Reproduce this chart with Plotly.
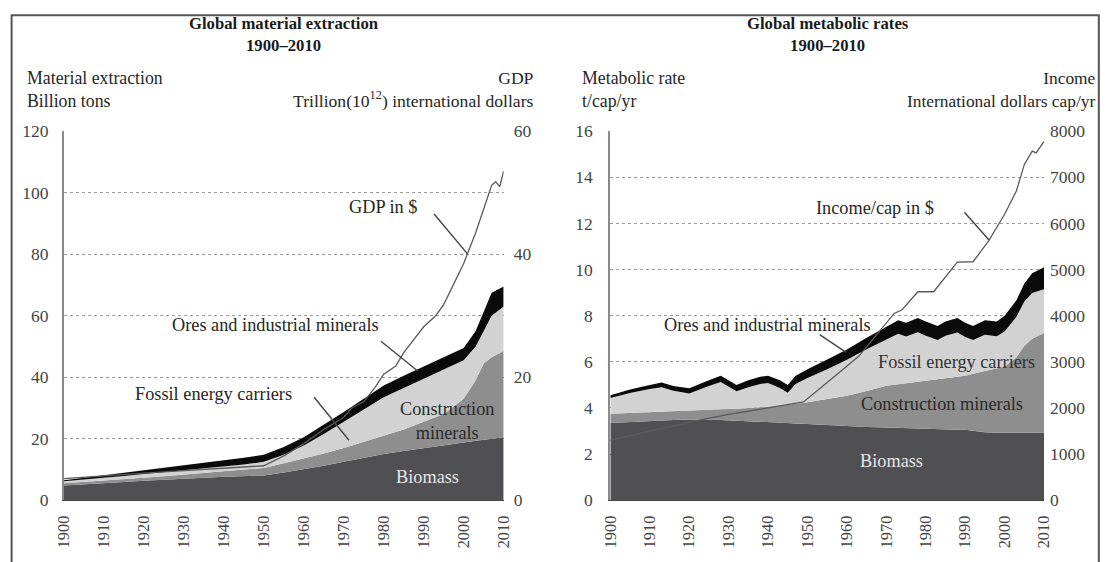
import plotly.graph_objects as go

# ---------------- data: left panel (billion tons, trillion $) ----------------
years_l = [1900, 1905, 1910, 1915, 1920, 1925, 1930, 1935, 1940, 1945, 1950, 1955,
           1960, 1965, 1970, 1975, 1980, 1985, 1990, 1995, 2000, 2003, 2005, 2007, 2010]
biomass_l = [4.8, 5.1, 5.5, 5.9, 6.3, 6.7, 7.0, 7.3, 7.6, 7.8, 8.0, 9.0,
             10.0, 11.2, 12.5, 13.8, 15.0, 16.0, 17.0, 17.9, 18.8, 19.3, 19.7, 20.1, 20.5]
construction_l = [0.7, 0.8, 0.8, 0.9, 1.0, 1.1, 1.3, 1.5, 1.7, 2.0, 2.5, 3.0,
                  3.5, 4.0, 4.5, 5.2, 6.0, 7.0, 8.5, 10.1, 14.2, 19.7, 24.8, 26.4, 28.0]
fossil_l = [0.7, 0.8, 1.0, 1.1, 1.2, 1.3, 1.4, 1.5, 1.7, 1.8, 2.0, 2.8,
            4.3, 6.3, 8.5, 10.5, 12.5, 13.5, 14.0, 14.5, 12.5, 11.0, 10.5, 13.5, 14.5]
ores_l = [0.3, 0.6, 0.8, 1.0, 1.2, 1.4, 1.6, 1.8, 2.0, 2.2, 2.3, 2.5,
          2.7, 3.0, 3.2, 3.5, 3.8, 4.0, 4.0, 4.0, 4.0, 5.0, 6.0, 7.5, 6.5]
gdp_years = [1900, 1910, 1920, 1930, 1940, 1950, 1955, 1960, 1965, 1970, 1972, 1975,
             1978, 1980, 1983, 1985, 1990, 1993, 1995, 2000, 2003, 2005, 2007, 2008, 2009, 2010]
gdp = [3.5, 4.0, 4.4, 4.8, 5.2, 5.6, 7.2, 9.2, 11.5, 13.5, 15.0, 16.0,
       18.5, 20.5, 21.8, 24.0, 28.2, 30.0, 31.8, 38.5, 43.5, 47.5, 51.2, 51.8, 51.0, 53.5]

# ---------------- data: right panel (t/cap/yr, $/cap/yr) ----------------
years_r = [1900, 1905, 1910, 1913, 1916, 1920, 1925, 1928, 1932, 1935, 1938, 1940,
           1943, 1945, 1947, 1950, 1955, 1960, 1965, 1970, 1973, 1975, 1978, 1980,
           1983, 1985, 1988, 1990, 1992, 1995, 1998, 2000, 2003, 2005, 2007, 2010]
biomass_r = [3.35, 3.40, 3.45, 3.47, 3.48, 3.50, 3.50, 3.48, 3.45, 3.43, 3.41, 3.40,
             3.38, 3.35, 3.33, 3.30, 3.25, 3.20, 3.17, 3.15, 3.13, 3.12, 3.11, 3.10,
             3.09, 3.08, 3.06, 3.05, 3.00, 2.95, 2.93, 2.93, 2.93, 2.93, 2.93, 2.93]
construction_r = [0.40, 0.38, 0.35, 0.35, 0.37, 0.38, 0.42, 0.46, 0.52, 0.56, 0.61, 0.65,
                  0.72, 0.78, 0.85, 0.95, 1.14, 1.33, 1.57, 1.81, 1.90, 1.95, 2.02, 2.07,
                  2.15, 2.20, 2.29, 2.35, 2.48, 2.65, 2.79, 2.87, 3.27, 3.77, 4.07, 4.32]
fossil_r = [0.68, 0.87, 1.02, 1.08, 0.90, 0.75, 1.03, 1.19, 0.75, 0.91, 1.02, 1.03,
            0.77, 0.53, 0.86, 1.05, 1.29, 1.56, 1.81, 2.03, 2.19, 2.03, 2.15, 1.96,
            1.71, 1.85, 1.92, 1.68, 1.47, 1.58, 1.39, 1.52, 1.75, 1.92, 1.99, 1.90]
ores_r = [0.12, 0.15, 0.18, 0.20, 0.20, 0.22, 0.25, 0.27, 0.28, 0.30, 0.31, 0.32,
          0.33, 0.34, 0.36, 0.38, 0.42, 0.45, 0.50, 0.55, 0.58, 0.60, 0.62, 0.62,
          0.60, 0.62, 0.63, 0.62, 0.60, 0.62, 0.64, 0.68, 0.72, 0.78, 0.85, 0.95]
inc_years = [1900, 1920, 1930, 1940, 1949, 1956, 1963, 1972, 1974, 1978, 1982, 1988,
             1992, 1996, 2000, 2003, 2005, 2007, 2008, 2010]
income = [1300, 1690, 1860, 2000, 2130, 2620, 3120, 4050, 4130, 4520, 4520, 5160,
          5170, 5630, 6200, 6710, 7280, 7570, 7530, 7780]

decades = list(range(1900, 2011, 10))

# ---------------- styling ----------------
SERIF = "Liberation Serif, Times New Roman, serif"
C_BIO, C_CON, C_FOS, C_ORE = "#505052", "#8e8e8e", "#d2d2d2", "#0a0a0a"
TXT = "#262626"

fig = go.Figure()

def stack(x, y, color, grp, xa, ya):
    fig.add_trace(go.Scatter(x=x, y=y, mode="lines", line=dict(width=0, color=color),
                             fillcolor=color, stackgroup=grp, xaxis=xa, yaxis=ya,
                             hoverinfo="skip", showlegend=False))

for vals, col in [(biomass_l, C_BIO), (construction_l, C_CON), (fossil_l, C_FOS), (ores_l, C_ORE)]:
    stack(years_l, vals, col, "L", "x", "y")
for vals, col in [(biomass_r, C_BIO), (construction_r, C_CON), (fossil_r, C_FOS), (ores_r, C_ORE)]:
    stack(years_r, vals, col, "R", "x2", "y3")

fig.add_trace(go.Scatter(x=gdp_years, y=gdp, mode="lines", line=dict(color="#5a5a5a", width=1.3),
                         xaxis="x", yaxis="y2", hoverinfo="skip", showlegend=False))
fig.add_trace(go.Scatter(x=inc_years, y=income, mode="lines", line=dict(color="#5a5a5a", width=1.3),
                         xaxis="x2", yaxis="y4", hoverinfo="skip", showlegend=False))

# The page keeps an 8px body margin and the captured page is scaled to the window,
# so target pixel positions are converted into figure pixels here.
W, H = 1109, 562
OFF = 8
SX, SY = W / (W + 2 * OFF), H / (H + 2 * OFF)
def PX(x):
    return (x / SX - OFF) / W
def PY(y):
    return 1 - (y / SY - OFF) / H

dom_y = [PY(502), PY(130)]
tickfont_y = dict(family=SERIF, size=17.5, color="#444")
tickfont_x = dict(family=SERIF, size=16.3, color="#444")

xcommon = dict(range=[1900, 2010], tickvals=decades, tickangle=-90, showgrid=False,
               zeroline=False, ticks="", tickfont=tickfont_x, ticklabelstandoff=8,
               showline=True, linecolor="#444", linewidth=1)
yleft = dict(showgrid=True, gridcolor="#9a9a9a", griddash="dot", gridwidth=1,
             showline=True, linecolor="#8a8a8a", linewidth=2, zeroline=False, ticks="",
             tickfont=tickfont_y, domain=dom_y)
yright = dict(side="right", showgrid=False, zeroline=False, ticks="", tickfont=tickfont_y,
              showline=False)

fig.update_layout(
    width=W, height=H, margin=dict(l=0, r=0, t=0, b=0),
    paper_bgcolor="white", plot_bgcolor="white", showlegend=False,
    xaxis=dict(domain=[PX(62), PX(503)], anchor="y", **xcommon),
    yaxis=dict(anchor="x", range=[0, 120], dtick=20, ticklabelstandoff=10, **yleft),
    yaxis2=dict(anchor="x", overlaying="y", range=[0, 60], dtick=20, ticklabelstandoff=9, **yright),
    xaxis2=dict(domain=[PX(610), PX(1045)], anchor="y3", **xcommon),
    yaxis3=dict(anchor="x2", range=[0, 16], dtick=2, ticklabelstandoff=12, **yleft),
    yaxis4=dict(anchor="x2", overlaying="y3", range=[0, 8000], dtick=1000, ticklabelstandoff=5, **yright),
)

ann = []
def A(text, x, y, xref="paper", yref="paper", xanchor="center", align="center",
      size=18.3, color=TXT, bold=False):
    ann.append(dict(text=f"<b>{text}</b>" if bold else text, x=x, y=y, xref=xref, yref=yref,
                    xanchor=xanchor, yanchor="middle", align=align, showarrow=False,
                    font=dict(family=SERIF, size=size, color=color)))

# titles
A("Global material extraction<br>1900–2010", PX(283), PY(32), size=16.7, color="#1a1a1a", bold=True)
A("Global metabolic rates<br>1900–2010", PX(828), PY(32), size=16.7, color="#1a1a1a", bold=True)
# axis headers
A("Material extraction<br>Billion tons", PX(23), PY(88), xanchor="left", align="left", size=17.8)
A("GDP<br>Trillion(10<sup>12</sup>) international dollars", PX(535), PY(88),
  xanchor="right", align="right", size=17.6)
A("Metabolic rate<br>t/cap/yr", PX(580), PY(88), xanchor="left", align="left", size=17.8)
A("Income<br>International dollars cap/yr", 1107 / W, PY(88), xanchor="right", align="right", size=17.4)

# in-plot labels, left panel
A("GDP in $", 1979.9, 95.2, "x", "y")
A("Ores and industrial minerals", 1952.9, 57.1, "x", "y")
A("Fossil energy carriers", 1937.4, 34.5, "x", "y")
A("Construction<br>minerals", 1995.8, 25.9, "x", "y", color="#2a2a2a")
A("Biomass", 1991.0, 7.4, "x", "y", color="#e6e6e6")
# in-plot labels, right panel
A("Income/cap in $", 1967.0, 12.65, "x2", "y3")
A("Ores and industrial minerals", 1939.9, 7.61, "x2", "y3")
A("Fossil energy carriers", 1987.7, 5.98, "x2", "y3", color="#333")
A("Construction minerals", 1984.2, 4.17, "x2", "y3", color="#2a2a2a")
A("Biomass", 1971.3, 1.72, "x2", "y3", color="#e6e6e6")
fig.update_layout(annotations=ann)

shapes = []
def L(x0, y0, x1, y1, xref, yref):
    shapes.append(dict(type="line", x0=x0, y0=y0, x1=x1, y1=y1, xref=xref, yref=yref,
                       line=dict(color="#444", width=1.4)))
L(1992.6, 93.1, 2000.9, 80.2, "x", "y")
L(1979.3, 51.7, 1988.5, 42.0, "x", "y")
L(1962.6, 33.5, 1971.3, 19.5, "x", "y")
L(1989.8, 12.49, 1996.1, 11.27, "x2", "y3")
L(1953.1, 7.18, 1959.8, 6.41, "x2", "y3")
# outer frame (right edge kept just inside the figure)
shapes.append(dict(type="rect", xref="paper", yref="paper", x0=PX(9.5), x1=1107.8 / W,
                   y0=-0.05, y1=PY(13), line=dict(color="#555", width=2), layer="below"))
fig.update_layout(shapes=shapes)

fig.write_html("out.html")
